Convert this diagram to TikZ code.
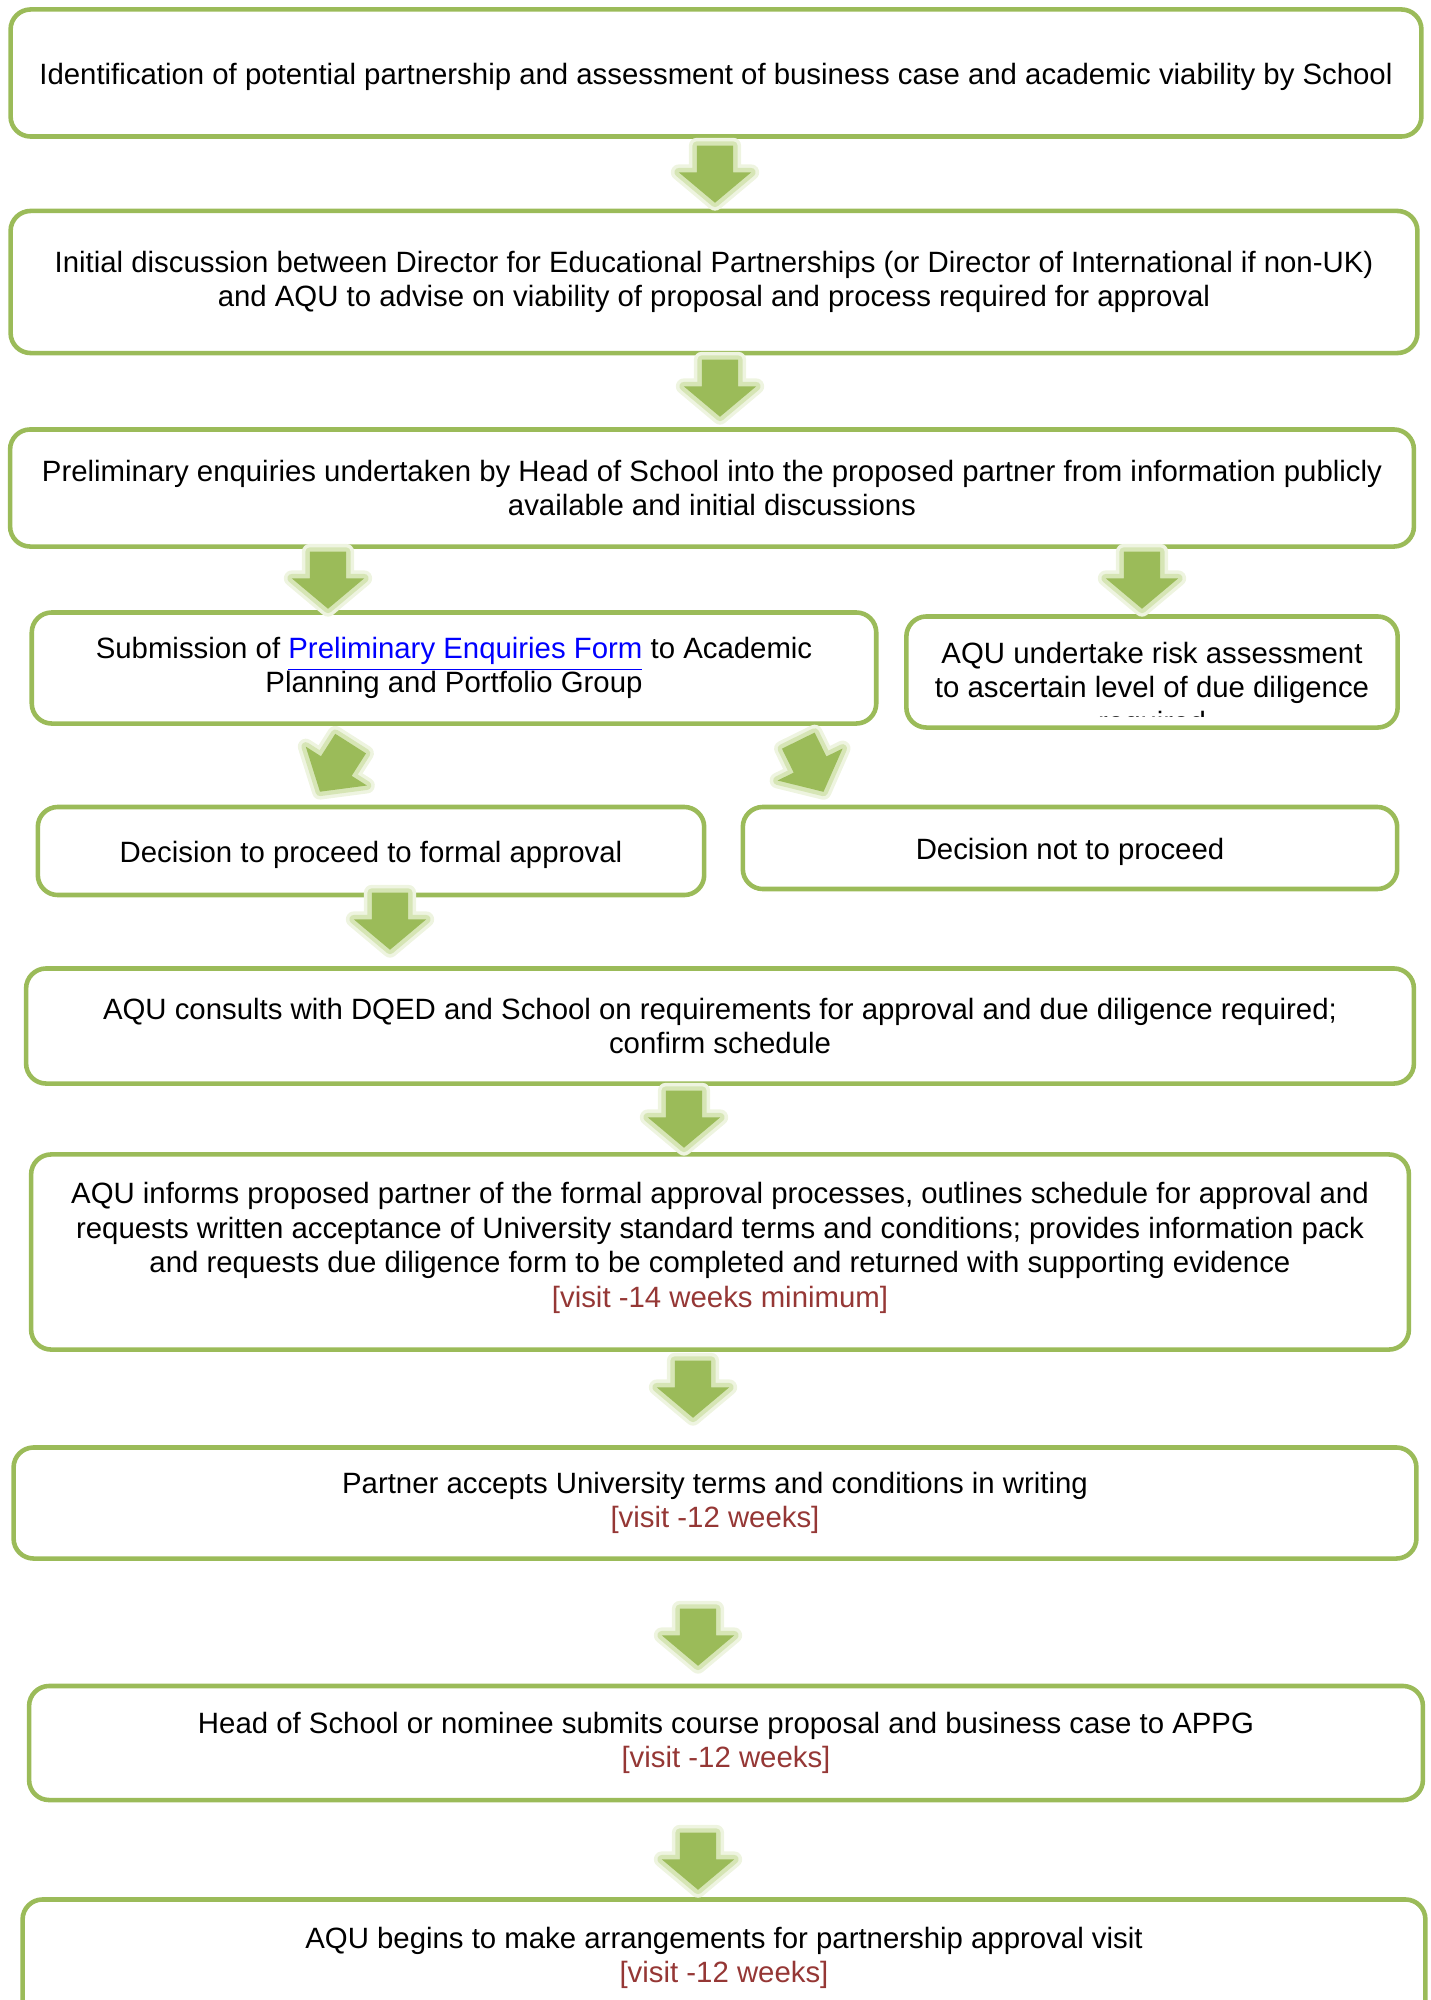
\documentclass[tikz,border=0pt]{standalone}
\usepackage{fontspec}
\setmainfont{Liberation Sans}
\usetikzlibrary{shapes.arrows}
\definecolor{boxgreen}{HTML}{9BBB59}
\definecolor{glowgreen}{HTML}{D6E5B5}
\definecolor{glowpale}{HTML}{EEF4E0}
\definecolor{visitred}{HTML}{953735}
\definecolor{linkblue}{HTML}{0000FF}
\begin{document}
\begin{tikzpicture}[x=0.01cm, y=-0.01cm,
  box/.style={draw=boxgreen, line width=1.3pt, rounded corners=0.2cm, inner sep=0pt, align=center, font=\fontsize{8.35}{9.8}\selectfont, execute at begin node=\rule{0pt}{0.3cm}},
  boxtext/.style={inner sep=0pt, align=center, font=\fontsize{8.35}{9.8}\selectfont},
  downarrow/.style={single arrow, fill=boxgreen, inner xsep=0pt, inner ysep=0.175cm, minimum height=0.57cm, minimum width=0.71cm, single arrow head extend=0.18cm, single arrow tip angle=100, anchor=tail,
    preaction={draw=glowpale, line width=4.5pt, line join=round},
    preaction={draw=glowgreen, line width=2.5pt, line join=round}}]

  \useasboundingbox (0,0) rectangle (1430,2000);

  \node[box, minimum width=14.10cm, minimum height=1.27cm] (b1) at (716,73) {Identification of potential partnership and assessment of business case and academic viability by School};
  \node[box, minimum width=14.06cm, minimum height=1.42cm] (b2) at (714,282) {Initial discussion between Director for Educational Partnerships (or Director of International if non-UK)\\and AQU to advise on viability of proposal and process required for approval};
  \node[box, minimum width=14.03cm, minimum height=1.17cm] (b3) at (712,488) {Preliminary enquiries undertaken by Head of School into the proposed partner from information publicly\\available and initial discussions};
  \node[box, minimum width=8.44cm, minimum height=1.11cm] (b4) at (454,668) {Submission of \textcolor{linkblue}{\underline{Preliminary Enquiries Form}} to Academic\\Planning and Portfolio Group};
  \node[box, minimum width=4.91cm, minimum height=1.11cm] (b5) at (1152,672) {};
  \begin{scope}
    \clip (906,617) rectangle (1400,716);
    \node[boxtext] (t5) at (1152,690) {AQU undertake risk assessment\\to ascertain level of due diligence\\required};
  \end{scope}
  \node[box, minimum width=6.66cm, minimum height=0.88cm] (b6) at (371,851) {Decision to proceed to formal approval};
  \node[box, minimum width=6.54cm, minimum height=0.82cm] (b7) at (1070,848) {Decision not to proceed};
  \node[box, minimum width=13.87cm, minimum height=1.15cm] (b8) at (720,1026) {AQU consults with DQED and School on requirements for approval and due diligence required;\\confirm schedule};
  \node[box, minimum width=13.77cm, minimum height=1.95cm] (b9) at (720,1252) {};
  \node[boxtext] (t9) at (720,1248) {AQU informs proposed partner of the formal approval processes, outlines schedule for approval and\\requests written acceptance of University standard terms and conditions; provides information pack\\and requests due diligence form to be completed and returned with supporting evidence\\\textcolor{visitred}{[visit -14 weeks minimum]}};
  \node[box, minimum width=14.02cm, minimum height=1.11cm] (b10) at (715,1503) {Partner accepts University terms and conditions in writing\\\textcolor{visitred}{[visit -12 weeks]}};
  \node[box, minimum width=13.93cm, minimum height=1.14cm] (b11) at (726,1743) {Head of School or nominee submits course proposal and business case to APPG\\\textcolor{visitred}{[visit -12 weeks]}};
  \node[box, minimum width=14.02cm, minimum height=1.81cm] (b12) at (724,1990) {};
  \node[boxtext] (t12) at (724,1958) {AQU begins to make arrangements for partnership approval visit\\\textcolor{visitred}{[visit -12 weeks]}};

  \node[downarrow, rotate=-90] (a1) at (715,145) {};
  \node[downarrow, rotate=-90] (a2) at (720,359) {};
  \node[downarrow, rotate=-90] (a3) at (328,551) {};
  \node[downarrow, rotate=-90] (a4) at (1142,551) {};
  \node[downarrow, rotate=-122.5] (a5) at (351,743) {};
  \node[downarrow, rotate=-63.8] (a6) at (798,740) {};
  \node[downarrow, rotate=-90] (a7) at (390,892) {};
  \node[downarrow, rotate=-90] (a8) at (684,1090) {};
  \node[downarrow, rotate=-90] (a9) at (693,1360) {};
  \node[downarrow, rotate=-90] (a10) at (698,1608) {};
  \node[downarrow, rotate=-90] (a11) at (698,1832) {};

\end{tikzpicture}
\end{document}
